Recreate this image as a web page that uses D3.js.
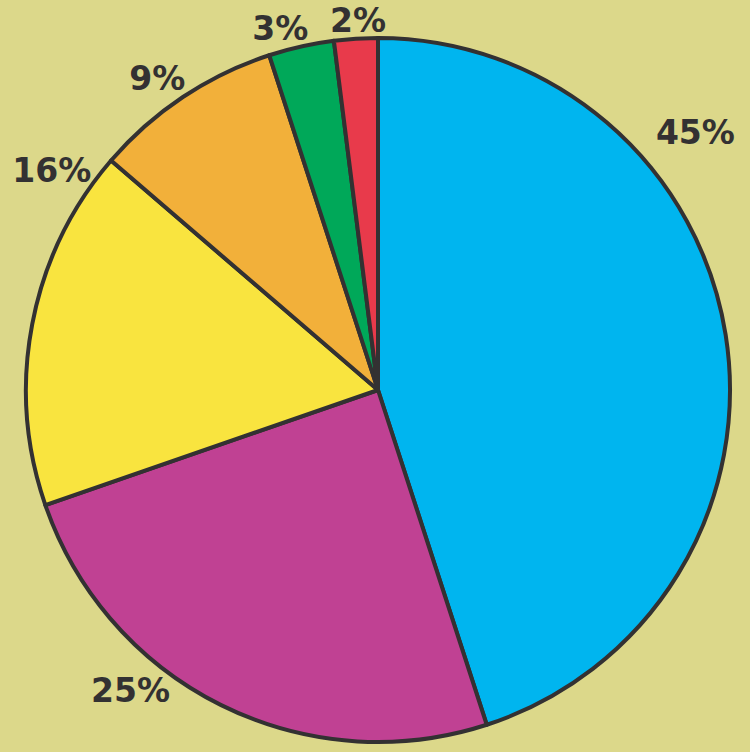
<!DOCTYPE html>
<html>
<head>
<meta charset="utf-8">
<script src="https://cdn.jsdelivr.net/npm/d3@7"></script>
<style>
  html, body { margin: 0; padding: 0; background: #dcd88a; }
  .pct { font-family: "DejaVu Sans", Verdana, sans-serif; font-weight: bold; font-size: 33px; fill: #333132; }
</style>
</head>
<body>
<div id="chart"></div>
<script>
var svgWidth = 750;
var svgHeight = 752;

// slices, clockwise from 12 o'clock (sizes as drawn, labels as printed)
var labels = ["45%", "25%", "16%", "9%", "3%", "2%"];
var values = [45, 24.7, 16.6, 8.7, 3, 2];
var colors = ["#00b5ef", "#c04193", "#f9e43f", "#f2b03a", "#00a859", "#e83a4b"];

// where each label sits: angle (deg, clockwise from top) and distance from centre
var labelAngle = [50.9, 219.5, 303.9, 324.7, 344.9, 356.9];
var labelDist = [409, 389, 393, 382, 375, 370];

var cx = 378, cy = 390, radius = 352;

var svg = d3.select("#chart")
  .append("svg")
  .attr("width", svgWidth)
  .attr("height", svgHeight);

svg.append("rect")
  .attr("width", svgWidth)
  .attr("height", svgHeight)
  .attr("fill", "#dcd88a");

var pieGroup = svg.append("g")
  .attr("transform", `translate(${cx}, ${cy})`);

var pie = d3.pie().sort(null).value(d => d);
var arc = d3.arc().innerRadius(0).outerRadius(radius);

var slices = pie(values);

pieGroup.selectAll("path")
  .data(slices)
  .enter()
  .append("path")
  .attr("d", arc)
  .attr("fill", (d, i) => colors[i])
  .attr("stroke", "#333132")
  .attr("stroke-width", 4)
  .attr("stroke-linejoin", "round");

pieGroup.selectAll("text")
  .data(slices)
  .enter()
  .append("text")
  .classed("pct", true)
  .attr("x", (d, i) => labelDist[i] * Math.sin(labelAngle[i] * Math.PI / 180))
  .attr("y", (d, i) => -labelDist[i] * Math.cos(labelAngle[i] * Math.PI / 180))
  .attr("dy", "0.35em")
  .attr("text-anchor", "middle")
  .text((d, i) => labels[i]);
</script>
</body>
</html>
